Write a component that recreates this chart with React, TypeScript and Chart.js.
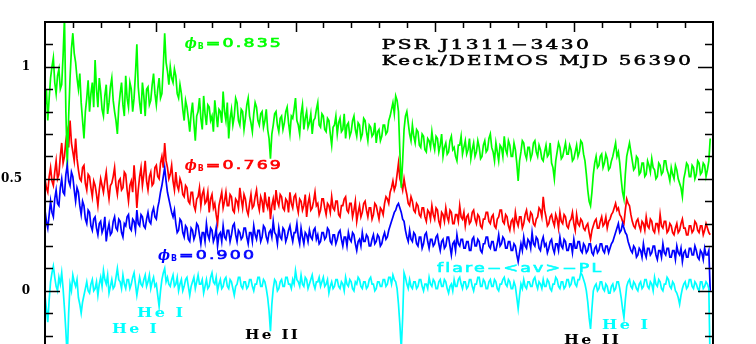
import React, { useEffect, useRef } from "react";
import { Chart, registerables } from "chart.js";

Chart.register(...registerables);

// Wavelength grid (Angstrom)
const WAVE_START = 4200;
const WAVE_STEP = 10;

// phi_B = 0.835 (green)
const fluxPhase0835 = [
  0.82, 0.9, 0.76, 0.86, 0.95, 1.0, 1.04, 0.93, 0.88, 0.96,
  0.99, 0.9, 0.92, 1.05, 1.22, 0.8, 0.55, 0.78, 0.95, 1.08,
  1.15, 1.06, 1.02, 0.95, 0.9, 0.97, 0.84, 0.76, 0.68, 0.8,
  0.86, 0.94, 0.8, 0.88, 0.93, 0.82, 1.03, 0.9, 0.82, 0.95,
  0.89, 0.81, 0.78, 0.87, 0.92, 0.79, 0.84, 0.91, 0.95, 0.85,
  0.8, 0.76, 0.7, 0.82, 0.88, 0.93, 0.83, 0.78, 0.96, 0.86,
  0.82, 0.93, 0.9, 0.8, 0.86, 0.97, 1.1, 0.91, 0.84, 0.79,
  0.93, 0.87, 0.78, 0.9, 0.91, 0.83, 0.85, 0.92, 0.97, 0.88,
  0.83, 0.9, 0.95, 0.86, 0.88, 1.0, 1.15, 1.02, 0.98, 0.92,
  1.0, 0.95, 0.93, 0.99, 0.96, 0.88, 0.86, 0.92, 0.88, 0.81,
  0.76, 0.85, 0.82, 0.77, 0.71, 0.79, 0.84, 0.75, 0.67, 0.78,
  0.8, 0.86, 0.77, 0.72, 0.87, 0.79, 0.74, 0.83, 0.82, 0.76,
  0.78, 0.71, 0.85, 0.79, 0.73, 0.81, 0.8, 0.75, 0.89, 0.8,
  0.76, 0.84, 0.68, 0.77, 0.81, 0.74, 0.78, 0.86, 0.84, 0.76,
  0.74, 0.81, 0.8, 0.72, 0.77, 0.83, 0.86, 0.78, 0.75, 0.71,
  0.79, 0.84, 0.82, 0.76, 0.74, 0.79, 0.8, 0.73, 0.76, 0.81,
  0.72, 0.68, 0.59, 0.7, 0.74, 0.79, 0.8, 0.74, 0.71, 0.77,
  0.78, 0.72, 0.75, 0.8, 0.82, 0.75, 0.7, 0.78, 0.77, 0.81,
  0.86, 0.76, 0.74, 0.7, 0.79, 0.83, 0.72, 0.77, 0.8, 0.73,
  0.75, 0.79, 0.7, 0.76, 0.77, 0.81, 0.84, 0.74, 0.73, 0.79,
  0.78, 0.72, 0.71, 0.77, 0.76, 0.7, 0.65, 0.73, 0.74, 0.78,
  0.7, 0.75, 0.77, 0.71, 0.72, 0.79, 0.68, 0.74, 0.75, 0.69,
  0.71, 0.76, 0.78, 0.72, 0.69, 0.75, 0.74, 0.68, 0.7, 0.77,
  0.76, 0.71, 0.67, 0.74, 0.73, 0.69, 0.7, 0.75, 0.66, 0.71,
  0.72, 0.67, 0.69, 0.74, 0.74, 0.7, 0.71, 0.76, 0.78, 0.81,
  0.84, 0.79, 0.87, 0.85, 0.8, 0.62, 0.46, 0.58, 0.72, 0.78,
  0.8, 0.75, 0.7, 0.67, 0.74, 0.69, 0.66, 0.72, 0.71, 0.65,
  0.64, 0.7, 0.69, 0.63, 0.62, 0.68, 0.67, 0.64, 0.71, 0.66,
  0.63, 0.69, 0.68, 0.62, 0.65, 0.7, 0.6, 0.64, 0.66, 0.61,
  0.62, 0.67, 0.69, 0.63, 0.64, 0.6, 0.58, 0.65, 0.65, 0.69,
  0.61, 0.64, 0.67, 0.61, 0.63, 0.68, 0.59, 0.63, 0.66, 0.6,
  0.62, 0.67, 0.64, 0.59, 0.6, 0.65, 0.67, 0.62, 0.63, 0.68,
  0.7, 0.64, 0.62, 0.58, 0.66, 0.62, 0.58, 0.65, 0.64, 0.6,
  0.69, 0.63, 0.61, 0.67, 0.65, 0.6, 0.6, 0.66, 0.63, 0.57,
  0.49, 0.58, 0.62, 0.67, 0.66, 0.61, 0.59, 0.64, 0.64, 0.59,
  0.61, 0.66, 0.67, 0.62, 0.6, 0.65, 0.63, 0.59, 0.58, 0.62,
  0.65, 0.6, 0.61, 0.66, 0.57, 0.55, 0.5, 0.58, 0.62, 0.66,
  0.64, 0.59, 0.6, 0.63, 0.66, 0.61, 0.61, 0.65, 0.63, 0.58,
  0.59, 0.62, 0.65, 0.6, 0.62, 0.67, 0.66, 0.61, 0.58, 0.52,
  0.45, 0.4, 0.38, 0.44, 0.52, 0.57, 0.6, 0.55, 0.56, 0.6,
  0.61, 0.55, 0.57, 0.61, 0.59, 0.54, 0.55, 0.58, 0.6, 0.63,
  0.66, 0.6, 0.62, 0.57, 0.5, 0.44, 0.41, 0.52, 0.6, 0.63,
  0.66, 0.62, 0.58, 0.54, 0.55, 0.6, 0.59, 0.52, 0.53, 0.57,
  0.57, 0.51, 0.52, 0.58, 0.56, 0.53, 0.59, 0.55, 0.54, 0.5,
  0.51, 0.57, 0.56, 0.52, 0.53, 0.58, 0.58, 0.54, 0.52, 0.49,
  0.55, 0.52, 0.5, 0.56, 0.54, 0.5, 0.48, 0.46, 0.42, 0.5,
  0.53, 0.57, 0.56, 0.51, 0.51, 0.56, 0.55, 0.5, 0.52, 0.58,
  0.57, 0.52, 0.53, 0.57, 0.56, 0.51, 0.54, 0.58, 0.68,
];

// phi_B = 0.769 (red)
const fluxPhase0769 = [
  0.5, 0.46, 0.44, 0.51, 0.55, 0.49, 0.47, 0.53, 0.58, 0.5,
  0.52, 0.6, 0.66, 0.57, 0.6, 0.67, 0.71, 0.64, 0.76, 0.66,
  0.62, 0.58, 0.68, 0.59, 0.54, 0.5, 0.49, 0.55, 0.56, 0.48,
  0.45, 0.52, 0.51, 0.46, 0.42, 0.49, 0.47, 0.43, 0.38, 0.45,
  0.5, 0.47, 0.44, 0.49, 0.53, 0.46, 0.41, 0.47, 0.48, 0.51,
  0.55, 0.47, 0.43, 0.49, 0.5, 0.45, 0.46, 0.53, 0.52, 0.45,
  0.4, 0.47, 0.49, 0.44, 0.56, 0.48, 0.37, 0.45, 0.51, 0.55,
  0.47, 0.52, 0.58, 0.49, 0.45, 0.51, 0.53, 0.47, 0.48, 0.55,
  0.56, 0.51, 0.5, 0.57, 0.6, 0.55, 0.66, 0.58, 0.55, 0.5,
  0.52, 0.56, 0.49, 0.45, 0.53, 0.47, 0.45, 0.5, 0.48, 0.43,
  0.42, 0.47, 0.46, 0.4, 0.39, 0.44, 0.44, 0.38, 0.36, 0.41,
  0.42, 0.46, 0.38, 0.43, 0.45, 0.39, 0.4, 0.44, 0.35, 0.41,
  0.43, 0.37, 0.39, 0.34, 0.3, 0.38, 0.41, 0.44, 0.37, 0.4,
  0.44, 0.38, 0.38, 0.43, 0.42, 0.36, 0.35, 0.41, 0.4, 0.37,
  0.46, 0.41, 0.37, 0.43, 0.41, 0.36, 0.34, 0.39, 0.43, 0.37,
  0.38, 0.42, 0.45, 0.39, 0.36, 0.42, 0.4, 0.35, 0.44, 0.39,
  0.37, 0.42, 0.32, 0.38, 0.41, 0.36, 0.45, 0.4, 0.38, 0.43,
  0.42, 0.37, 0.36, 0.41, 0.4, 0.35, 0.44, 0.39, 0.37, 0.42,
  0.43, 0.38, 0.35, 0.41, 0.4, 0.36, 0.38, 0.43, 0.33, 0.39,
  0.42, 0.36, 0.37, 0.4, 0.44, 0.38, 0.39, 0.34, 0.36, 0.41,
  0.41, 0.37, 0.34, 0.39, 0.38, 0.35, 0.42, 0.37, 0.36, 0.4,
  0.4, 0.34, 0.33, 0.38, 0.38, 0.41, 0.42, 0.36, 0.35, 0.39,
  0.39, 0.33, 0.36, 0.4, 0.31, 0.35, 0.38, 0.33, 0.35, 0.39,
  0.4, 0.36, 0.33, 0.37, 0.37, 0.32, 0.34, 0.39, 0.38, 0.35,
  0.32, 0.37, 0.36, 0.34, 0.39, 0.42, 0.41, 0.39, 0.44, 0.46,
  0.49, 0.45, 0.47, 0.52, 0.57, 0.5, 0.48, 0.45, 0.5, 0.46,
  0.43, 0.39, 0.38, 0.42, 0.4, 0.36, 0.35, 0.39, 0.38, 0.34,
  0.33, 0.37, 0.37, 0.33, 0.31, 0.36, 0.35, 0.32, 0.38, 0.34,
  0.32, 0.37, 0.36, 0.31, 0.29, 0.35, 0.34, 0.31, 0.37, 0.33,
  0.31, 0.36, 0.35, 0.3, 0.3, 0.34, 0.34, 0.31, 0.38, 0.33,
  0.32, 0.35, 0.29, 0.33, 0.34, 0.3, 0.31, 0.35, 0.36, 0.32,
  0.3, 0.34, 0.33, 0.29, 0.28, 0.32, 0.32, 0.35, 0.35, 0.31,
  0.3, 0.33, 0.34, 0.29, 0.28, 0.32, 0.33, 0.36, 0.36, 0.31,
  0.3, 0.34, 0.33, 0.29, 0.27, 0.31, 0.32, 0.28, 0.35, 0.31,
  0.29, 0.33, 0.33, 0.28, 0.3, 0.34, 0.36, 0.32, 0.31, 0.35,
  0.34, 0.3, 0.29, 0.32, 0.33, 0.37, 0.36, 0.33, 0.42, 0.36,
  0.33, 0.29, 0.3, 0.33, 0.34, 0.31, 0.29, 0.34, 0.32, 0.28,
  0.35, 0.31, 0.3, 0.34, 0.33, 0.29, 0.28, 0.31, 0.32, 0.35,
  0.3, 0.27, 0.34, 0.3, 0.29, 0.32, 0.31, 0.28, 0.27, 0.29,
  0.3, 0.26, 0.23, 0.27, 0.29, 0.31, 0.32, 0.28, 0.28, 0.31,
  0.33, 0.29, 0.3, 0.33, 0.28, 0.31, 0.32, 0.34, 0.35, 0.37,
  0.39, 0.36, 0.37, 0.34, 0.33, 0.31, 0.3, 0.36, 0.41, 0.39,
  0.38, 0.34, 0.31, 0.29, 0.28, 0.31, 0.32, 0.29, 0.27, 0.31,
  0.3, 0.27, 0.33, 0.29, 0.28, 0.32, 0.31, 0.27, 0.26, 0.3,
  0.3, 0.27, 0.34, 0.29, 0.28, 0.31, 0.31, 0.26, 0.27, 0.3,
  0.29, 0.26, 0.25, 0.28, 0.3, 0.26, 0.27, 0.3, 0.32, 0.28,
  0.28, 0.25, 0.25, 0.29, 0.29, 0.26, 0.27, 0.31, 0.3, 0.27,
  0.26, 0.29, 0.29, 0.25, 0.27, 0.3, 0.28, 0.26, 0.25,
];

// phi_B = 0.900 (blue)
const fluxPhase0900 = [
  0.36, 0.31, 0.28, 0.34, 0.4, 0.35, 0.33, 0.41, 0.45, 0.39,
  0.38, 0.46, 0.5, 0.44, 0.43, 0.52, 0.56, 0.49, 0.47, 0.53,
  0.51, 0.45, 0.4, 0.46, 0.44, 0.38, 0.34, 0.4, 0.38, 0.32,
  0.3, 0.36, 0.35, 0.29, 0.27, 0.32, 0.33, 0.28, 0.25, 0.3,
  0.31, 0.26, 0.28, 0.33, 0.22, 0.27, 0.3, 0.25, 0.26, 0.31,
  0.33, 0.28, 0.27, 0.32, 0.31, 0.26, 0.24, 0.3, 0.29, 0.33,
  0.34, 0.28, 0.27, 0.32, 0.31, 0.27, 0.36, 0.3, 0.29, 0.34,
  0.33, 0.29, 0.28, 0.32, 0.35, 0.31, 0.3, 0.35, 0.37, 0.33,
  0.32, 0.37, 0.4, 0.44, 0.47, 0.51, 0.55, 0.49, 0.44, 0.41,
  0.38, 0.35, 0.33, 0.36, 0.3, 0.26, 0.27, 0.32, 0.31, 0.26,
  0.24, 0.29, 0.28, 0.23, 0.22, 0.28, 0.27, 0.23, 0.25, 0.3,
  0.29, 0.25, 0.21, 0.26, 0.26, 0.22, 0.3, 0.25, 0.23, 0.28,
  0.27, 0.22, 0.24, 0.28, 0.2, 0.25, 0.26, 0.22, 0.29, 0.24,
  0.23, 0.27, 0.27, 0.22, 0.25, 0.29, 0.3, 0.25, 0.22, 0.27,
  0.26, 0.23, 0.24, 0.28, 0.28, 0.24, 0.21, 0.26, 0.26, 0.22,
  0.29, 0.25, 0.23, 0.27, 0.27, 0.22, 0.24, 0.29, 0.28, 0.24,
  0.22, 0.26, 0.27, 0.24, 0.31, 0.26, 0.25, 0.21, 0.28, 0.24,
  0.23, 0.28, 0.27, 0.22, 0.24, 0.27, 0.29, 0.25, 0.22, 0.26,
  0.26, 0.3, 0.24, 0.21, 0.28, 0.24, 0.21, 0.26, 0.25, 0.22,
  0.27, 0.24, 0.23, 0.27, 0.28, 0.23, 0.25, 0.21, 0.22, 0.26,
  0.26, 0.23, 0.24, 0.28, 0.27, 0.22, 0.21, 0.25, 0.25, 0.21,
  0.23, 0.26, 0.27, 0.23, 0.2, 0.24, 0.24, 0.2, 0.26, 0.23,
  0.22, 0.26, 0.25, 0.21, 0.18, 0.22, 0.23, 0.2, 0.26, 0.22,
  0.22, 0.25, 0.24, 0.2, 0.2, 0.23, 0.25, 0.21, 0.22, 0.25,
  0.24, 0.2, 0.21, 0.24, 0.26, 0.23, 0.24, 0.27, 0.29, 0.31,
  0.33, 0.35, 0.36, 0.38, 0.39, 0.37, 0.35, 0.32, 0.31, 0.27,
  0.24, 0.22, 0.27, 0.23, 0.22, 0.26, 0.25, 0.21, 0.2, 0.24,
  0.24, 0.19, 0.21, 0.25, 0.26, 0.22, 0.19, 0.23, 0.23, 0.2,
  0.21, 0.24, 0.25, 0.21, 0.18, 0.22, 0.23, 0.19, 0.2, 0.24,
  0.24, 0.2, 0.16, 0.21, 0.22, 0.18, 0.25, 0.21, 0.2, 0.23,
  0.23, 0.19, 0.19, 0.22, 0.22, 0.18, 0.18, 0.23, 0.24, 0.2,
  0.2, 0.23, 0.22, 0.18, 0.17, 0.21, 0.21, 0.24, 0.24, 0.2,
  0.19, 0.22, 0.22, 0.18, 0.18, 0.21, 0.25, 0.2, 0.21, 0.24,
  0.23, 0.19, 0.19, 0.22, 0.22, 0.18, 0.18, 0.21, 0.2, 0.16,
  0.13, 0.17, 0.21, 0.18, 0.24, 0.2, 0.19, 0.23, 0.22, 0.19,
  0.26, 0.21, 0.2, 0.24, 0.23, 0.19, 0.18, 0.22, 0.24, 0.2,
  0.21, 0.17, 0.19, 0.22, 0.23, 0.19, 0.17, 0.21, 0.21, 0.18,
  0.24, 0.2, 0.19, 0.23, 0.22, 0.18, 0.18, 0.21, 0.21, 0.17,
  0.23, 0.19, 0.19, 0.22, 0.22, 0.18, 0.17, 0.21, 0.2, 0.17,
  0.18, 0.21, 0.21, 0.17, 0.16, 0.19, 0.2, 0.17, 0.18, 0.21,
  0.21, 0.18, 0.17, 0.2, 0.2, 0.17, 0.19, 0.21, 0.22, 0.24,
  0.26, 0.28, 0.3, 0.26, 0.27, 0.3, 0.28, 0.26, 0.25, 0.22,
  0.2, 0.18, 0.17, 0.2, 0.19, 0.15, 0.16, 0.19, 0.18, 0.15,
  0.21, 0.17, 0.15, 0.19, 0.19, 0.16, 0.17, 0.2, 0.2, 0.16,
  0.14, 0.18, 0.18, 0.15, 0.21, 0.17, 0.16, 0.19, 0.19, 0.15,
  0.15, 0.18, 0.18, 0.14, 0.2, 0.17, 0.16, 0.19, 0.13, 0.17,
  0.18, 0.15, 0.15, 0.19, 0.19, 0.16, 0.16, 0.2, 0.18, 0.15,
  0.14, 0.18, 0.17, 0.14, 0.19, 0.16, 0.16, 0.18, 0.0,
];

// flare - <av> - PL (cyan)
const fluxFlareResidual = [
  -0.02, -0.08, -0.14, -0.04, 0.04, 0.08, 0.11, 0.06, 0.02, 0.0,
  0.06, 0.03, 0.08, 0.01, -0.08, -0.18, -0.3, -0.1, 0.03, 0.0,
  0.07, 0.04, 0.02, 0.05, -0.03, -0.06, -0.1, -0.05, -0.02, 0.01,
  0.04, 0.0, -0.01, 0.03, 0.05, 0.0, 0.01, 0.04, -0.02, 0.03,
  0.06, 0.02, 0.09, 0.05, 0.03, 0.07, -0.01, 0.02, 0.05, 0.01,
  0.02, 0.06, 0.1, 0.05, 0.04, 0.01, 0.07, 0.03, 0.01, 0.05,
  0.05, 0.01, 0.03, 0.06, 0.08, 0.03, -0.02, 0.02, 0.06, 0.03,
  0.02, 0.05, 0.07, 0.02, 0.04, 0.07, 0.01, 0.04, 0.06, 0.02,
  0.03, -0.02, -0.07, 0.0, 0.05, 0.08, 0.1, 0.04, 0.06, 0.03,
  0.02, 0.05, 0.07, 0.02, 0.03, 0.06, 0.0, 0.03, 0.05, 0.0,
  0.02, 0.05, 0.06, 0.02, -0.02, 0.02, 0.04, 0.06, 0.01, 0.04,
  0.07, 0.03, 0.03, 0.05, -0.01, 0.02, 0.05, 0.01, 0.02, 0.06,
  0.08, 0.04, 0.03, 0.06, 0.0, 0.03, 0.05, 0.01, 0.02, 0.05,
  0.06, 0.02, 0.01, 0.05, 0.04, 0.01, -0.02, 0.02, 0.03, 0.06,
  0.06, 0.02, 0.01, 0.04, 0.04, 0.01, 0.02, 0.05, 0.05, 0.02,
  0.0, 0.03, 0.03, 0.06, 0.06, 0.02, 0.02, 0.05, 0.04, 0.01,
  -0.03, -0.09, -0.18, -0.06, 0.01, 0.05, 0.04, 0.0, 0.01, 0.04,
  0.05, 0.02, 0.02, 0.06, 0.06, 0.03, 0.03, 0.01, 0.05, 0.03,
  0.09, 0.05, 0.04, 0.02, 0.07, 0.03, 0.02, 0.06, 0.05, 0.01,
  0.03, 0.05, 0.07, 0.03, 0.01, 0.04, 0.04, 0.06, 0.02, 0.04,
  0.06, 0.02, 0.03, 0.05, -0.01, 0.02, 0.04, 0.01, 0.02, 0.05,
  0.05, 0.02, 0.01, 0.04, 0.03, 0.0, 0.06, 0.03, 0.02, 0.05,
  0.04, 0.01, 0.0, 0.04, 0.03, 0.06, 0.05, 0.02, 0.01, 0.04,
  0.04, 0.01, 0.02, 0.05, 0.06, 0.03, 0.03, 0.0, 0.01, 0.04,
  0.04, 0.02, 0.02, 0.05, 0.05, 0.02, 0.03, 0.06, 0.06, 0.03,
  0.07, 0.05, 0.04, 0.01, -0.06, -0.15, -0.26, -0.12, 0.08, 0.06,
  0.03, 0.01, 0.05, 0.02, 0.01, 0.04, 0.04, 0.01, 0.02, 0.05,
  0.05, 0.02, 0.0, 0.03, 0.03, 0.01, 0.06, 0.03, 0.02, 0.05,
  0.04, 0.01, 0.01, 0.04, 0.05, 0.02, 0.02, 0.05, 0.04, 0.01,
  -0.01, 0.02, 0.03, 0.0, 0.05, 0.02, 0.02, 0.05, 0.06, 0.03,
  0.01, 0.04, 0.04, 0.01, 0.02, 0.05, 0.05, 0.02, 0.0, 0.03,
  0.03, 0.06, 0.06, 0.02, 0.02, 0.05, 0.04, 0.01, 0.01, 0.04,
  0.05, 0.02, 0.02, 0.05, 0.04, 0.01, 0.0, 0.03, 0.03, 0.05,
  0.06, 0.03, 0.02, 0.05, 0.04, 0.01, 0.01, 0.04, 0.02, -0.03,
  -0.08, -0.02, 0.03, 0.01, 0.05, 0.02, 0.01, 0.04, 0.04, 0.02,
  0.02, 0.05, 0.06, 0.03, 0.01, 0.04, 0.03, 0.01, 0.05, 0.02,
  0.02, 0.05, 0.04, 0.01, 0.0, 0.03, 0.03, 0.06, 0.05, 0.02,
  0.01, 0.04, 0.04, 0.01, 0.02, 0.05, 0.05, 0.02, 0.03, 0.06,
  0.06, 0.03, 0.02, 0.05, 0.05, 0.08, 0.07, 0.05, 0.03, 0.0,
  -0.05, -0.12, -0.17, -0.08, 0.0, 0.02, 0.03, 0.0, 0.01, 0.04,
  0.04, 0.01, 0.0, 0.03, 0.02, -0.01, -0.01, 0.02, 0.03, 0.0,
  0.01, 0.04, 0.04, 0.01, -0.03, -0.08, -0.12, -0.04, 0.02, 0.04,
  0.05, 0.02, 0.01, 0.04, 0.03, 0.01, 0.0, 0.03, 0.04, 0.01,
  0.02, 0.05, 0.05, 0.02, 0.01, 0.04, 0.03, 0.0, 0.06, 0.03,
  0.02, 0.05, 0.04, 0.01, 0.0, 0.03, 0.03, 0.06, 0.05, 0.02,
  0.01, 0.04, 0.03, 0.0, -0.01, -0.03, -0.06, -0.02, 0.01, 0.03,
  0.04, 0.01, 0.02, 0.05, 0.05, 0.02, 0.01, 0.04, 0.03, 0.01,
  0.0, 0.04, 0.04, 0.01, 0.02, 0.04, 0.03, 0.01, -0.35,
];

// Axis range and ticks
const X_MIN = 4200;
const X_MAX = 9000;
const Y_MIN = -0.2375;
const Y_MAX = 1.2;
const xMinorTicks = [4400, 4600, 4800, 5000, 5200, 5400, 5600, 5800, 6000, 6200, 6400, 6600, 6800, 7000, 7200, 7400, 7600, 7800, 8000, 8200, 8400, 8600, 8800];
const xMajorTicks = [5000, 6000, 7000, 8000];
const yMinorTicks = [-0.2, -0.1, 0, 0.1, 0.2, 0.3, 0.4, 0.5, 0.6, 0.7, 0.8, 0.9, 1.0, 1.1];
const yMajorTicks = [0, 0.5, 1];
const yTickLabels = ["0", "0.5", "1"];

// Text
const titleLines = ["PSR J1311\u22123430", "Keck/DEIMOS MJD 56390"];
const phaseLabels = ["0.835", "0.769", "0.900"];
const residualLabel = "flare\u2212<av>\u2212PL";

const wavelengths = fluxPhase0835.map((_, i) => WAVE_START + i * WAVE_STEP);
const toPoints = (arr: number[]) => arr.map((v, i) => ({ x: wavelengths[i], y: v }));

function drawScaled(
  ctx: CanvasRenderingContext2D,
  text: string,
  x: number,
  cy: number,
  width: number,
  size: number,
  font: string,
  color: string,
  spacing: number,
  stroke = 0
) {
  ctx.save();
  ctx.font = font;
  ctx.fillStyle = color;
  ctx.strokeStyle = color;
  (ctx as any).letterSpacing = `${spacing}px`;
  ctx.textBaseline = "alphabetic";
  ctx.textAlign = "left";
  const measured = ctx.measureText(text).width - spacing;
  const sx = width / measured;
  ctx.translate(x, cy + size * 0.36);
  ctx.scale(sx, 1);
  ctx.fillText(text, 0, 0);
  if (stroke > 0) {
    ctx.lineWidth = stroke;
    ctx.strokeText(text, 0, 0);
  }
  ctx.restore();
}

const framePlugin = {
  id: "pgplotFrame",
  afterDraw(chart: any) {
    const { ctx, chartArea: a, scales } = chart;
    const xs = scales.x;
    const ys = scales.y;
    const isMajor = (v: number, list: number[]) => list.some((m) => Math.abs(m - v) < 1e-6);

    ctx.save();
    ctx.strokeStyle = "#000";
    ctx.lineWidth = 2;
    ctx.beginPath();
    ctx.moveTo(a.left, a.bottom + 2);
    ctx.lineTo(a.left, a.top);
    ctx.lineTo(a.right, a.top);
    ctx.lineTo(a.right, a.bottom + 2);
    ctx.stroke();

    ctx.lineWidth = 1.5;
    ctx.beginPath();
    xMinorTicks.forEach((v) => {
      const px = Math.round(xs.getPixelForValue(v)) + 0.5;
      const len = isMajor(v, xMajorTicks) ? 10 : 6;
      ctx.moveTo(px, a.top);
      ctx.lineTo(px, a.top + len);
    });
    yMinorTicks.forEach((v) => {
      const py = Math.round(ys.getPixelForValue(v)) + 0.5;
      const len = isMajor(v, yMajorTicks) ? 15 : 8;
      ctx.moveTo(a.left, py);
      ctx.lineTo(a.left + len, py);
      ctx.moveTo(a.right, py);
      ctx.lineTo(a.right - len, py);
    });
    ctx.stroke();
    ctx.restore();

    // y tick labels
    ctx.save();
    ctx.fillStyle = "#000";
    ctx.font = 'bold 12px "DejaVu Serif"';
    ctx.textBaseline = "middle";
    yMajorTicks.forEach((v, i) => {
      const py = ys.getPixelForValue(v);
      const label = yTickLabels[i];
      if (label.length > 1) {
        ctx.textAlign = "right";
        ctx.fillText(label, a.left - 23, py);
      } else {
        ctx.textAlign = "center";
        ctx.fillText(label, a.left - 19, py);
      }
    });
    ctx.restore();

    const X = (w: number) => xs.getPixelForValue(w);
    const Y = (v: number) => ys.getPixelForValue(v);

    // Title
    drawScaled(ctx, titleLines[0], X(6620), Y(1.102), 207, 13, '13px "DejaVu Serif"', "#000", 1.5, 0.5);
    drawScaled(ctx, titleLines[1], X(6620), Y(1.03), 309, 13, '13px "DejaVu Serif"', "#000", 1.5, 0.5);

    // Phase labels
    const phases = [
      { w: 5205, v: 1.106, color: "#00ff00", text: phaseLabels[0] },
      { w: 5205, v: 0.562, color: "#ff0000", text: phaseLabels[1] },
      { w: 5012, v: 0.16, color: "#0000ff", text: phaseLabels[2] },
    ];
    phases.forEach((p) => {
      const px = X(p.w);
      const py = Y(p.v);
      drawScaled(ctx, "\u03d5", px, py, 12, 13, 'italic bold 14px "DejaVu Serif"', p.color, 0);
      drawScaled(ctx, "B", px + 13, py + 3, 6, 8, 'bold 8px "DejaVu Sans"', p.color, 0);
      drawScaled(ctx, "=" + p.text, px + 21, py, 75, 12, '12px "DejaVu Sans"', p.color, 1.5, 0.6);
    });

    drawScaled(ctx, residualLabel, X(7017), Y(0.102), 164, 12, '12px "DejaVu Sans"', "#00ffff", 1.5, 0.6);

    // Line identifications
    const lineIds = [
      { text: "He I", w: 4861, v: -0.095, width: 46, color: "#00ffff" },
      { text: "He I", w: 4681, v: -0.166, width: 45, color: "#00ffff" },
      { text: "He II", w: 5637, v: -0.193, width: 53, color: "#000" },
      { text: "He II", w: 7929, v: -0.215, width: 55, color: "#000" },
      { text: "He I", w: 8202, v: -0.148, width: 46, color: "#00ffff" },
      { text: "H\u03b5", w: 4214, v: -0.262, width: 20, color: "#000" },
      { text: "H\u03b3", w: 4509, v: -0.262, width: 20, color: "#000" },
    ];
    lineIds.forEach((l) => {
      drawScaled(ctx, l.text, X(l.w), Y(l.v), l.width, 13, 'bold 13px "DejaVu Serif"', l.color, 2);
    });
  },
};

export default function App() {
  const ref = useRef<HTMLCanvasElement>(null);

  useEffect(() => {
    const canvas = ref.current;
    if (!canvas) return;
    const chart = new Chart(canvas, {
      type: "line",
      data: {
        datasets: [
          { label: "flare-<av>-PL", data: toPoints(fluxFlareResidual), borderColor: "#00ffff" },
          { label: "phi 0.900", data: toPoints(fluxPhase0900), borderColor: "#0000ff" },
          { label: "phi 0.835", data: toPoints(fluxPhase0835), borderColor: "#00ff00" },
          { label: "phi 0.769", data: toPoints(fluxPhase0769), borderColor: "#ff0000" },
        ],
      },
      options: {
        animation: false,
        responsive: false,
        devicePixelRatio: 1,
        layout: { padding: { left: 45, right: 43, top: 22, bottom: 0 } },
        scales: {
          x: { type: "linear", min: X_MIN, max: X_MAX, display: false },
          y: { type: "linear", min: Y_MIN, max: Y_MAX, display: false },
        },
        plugins: { legend: { display: false }, tooltip: { enabled: false } },
        elements: {
          point: { radius: 0 },
          line: { borderWidth: 1.7, tension: 0, fill: false },
        },
      },
      plugins: [framePlugin],
    } as any);
    return () => chart.destroy();
  }, []);

  return (
    <div style={{ position: "fixed", left: 0, top: 0, width: 756, height: 344, background: "#fff" }}>
      <canvas ref={ref} width={756} height={344} style={{ display: "block", width: 756, height: 344 }} />
    </div>
  );
}
